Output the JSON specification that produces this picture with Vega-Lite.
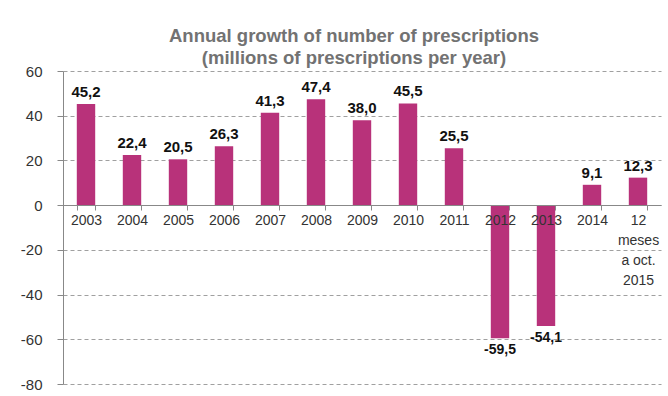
{
  "$schema": "https://vega.github.io/schema/vega-lite/v6.json",
  "width": 598,
  "height": 313,
  "autosize": {"type": "none"},
  "padding": {"left": 63, "top": 71, "right": 7, "bottom": 12},
  "background": "white",
  "config": {
    "view": {"stroke": null},
    "font": "Liberation Sans",
    "locale": {"number": {"decimal": ",", "thousands": ".", "grouping": [3], "currency": ["", " €"], "minus": "-"}}
  },
  "title": {
    "text": ["Annual growth of number of prescriptions", "(millions of prescriptions per year)"],
    "font": "Liberation Sans",
    "fontSize": 18.5,
    "fontWeight": "bold",
    "color": "#727272",
    "lineHeight": 22,
    "anchor": "middle",
    "dx": -8,
    "offset": -3
  },
  "data": {
    "values": [
      {"period": "2003", "growth": 45.2},
      {"period": "2004", "growth": 22.4},
      {"period": "2005", "growth": 20.5},
      {"period": "2006", "growth": 26.3},
      {"period": "2007", "growth": 41.3},
      {"period": "2008", "growth": 47.4},
      {"period": "2009", "growth": 38.0},
      {"period": "2010", "growth": 45.5},
      {"period": "2011", "growth": 25.5},
      {"period": "2012", "growth": -59.5},
      {"period": "2013", "growth": -54.1},
      {"period": "2014", "growth": 9.1},
      {"period": "12|meses|a oct.|2015", "growth": 12.3}
    ]
  },
  "encoding": {
    "x": {
      "field": "period",
      "type": "nominal",
      "sort": null,
      "scale": {"paddingInner": 0.6, "paddingOuter": 0.3},
      "axis": {
        "title": null,
        "orient": "bottom",
        "offset": -179,
        "zindex": 1,
        "labelAngle": 0,
        "labelExpr": "split(datum.label, '|')",
        "labelLineHeight": 20,
        "labelFontSize": 14,
        "labelColor": "#333333",
        "labelPadding": 3,
        "labelBaseline": "top",
        "tickBand": "extent",
        "tickSize": 5,
        "tickColor": "#888888",
        "domainColor": "#888888",
        "grid": false
      }
    },
    "y": {
      "field": "growth",
      "type": "quantitative",
      "scale": {"domain": [-80, 60], "nice": false},
      "axis": {
        "title": null,
        "values": [-80, -60, -40, -20, 0, 20, 40, 60],
        "labelFontSize": 15,
        "labelColor": "#333333",
        "labelPadding": 15,
        "tickSize": 6,
        "tickColor": "#888888",
        "domainColor": "#888888",
        "grid": true,
        "gridColor": "#a0a0a0",
        "gridDash": [4, 3],
        "gridWidth": 1
      }
    }
  },
  "layer": [
    {"mark": {"type": "bar", "color": "#b8327a"}},
    {
      "transform": [{"filter": "datum.growth >= 0"}],
      "mark": {"type": "text", "baseline": "bottom", "dy": -4, "fontSize": 15, "fontWeight": "bold", "color": "#111111"},
      "encoding": {"text": {"field": "growth", "type": "quantitative", "format": ".1f"}}
    },
    {
      "transform": [{"filter": "datum.growth < 0"}],
      "mark": {"type": "text", "baseline": "top", "dy": 5, "fontSize": 14, "fontWeight": "bold", "color": "#111111"},
      "encoding": {"text": {"field": "growth", "type": "quantitative", "format": ".1f"}}
    }
  ]
}
